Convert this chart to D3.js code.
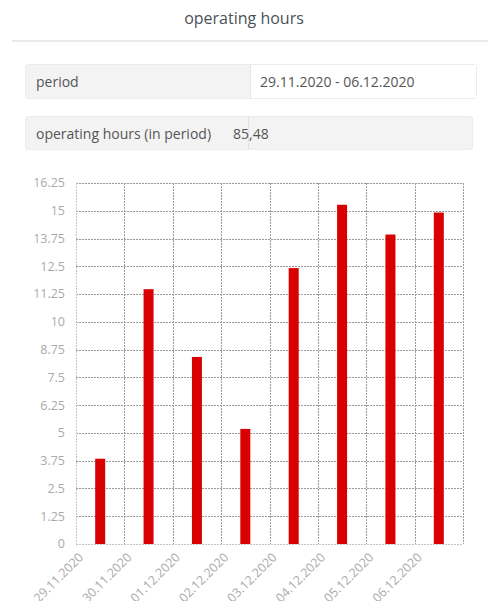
<!DOCTYPE html>
<html>
<head>
<meta charset="utf-8">
<script src="https://cdn.jsdelivr.net/npm/d3@7"></script>
<style>
  body { margin: 0; width: 488px; height: 601px; background: #fff; font-family: "Open Sans", sans-serif; position: relative; overflow: hidden; }
  .title { position: absolute; left: 0; width: 488px; top: 7px; text-align: center; font-size: 16px; color: #4a5259; }
  .sep { position: absolute; left: 12px; right: 0; top: 40px; height: 2px; background: #ebebeb; }
  .row { position: absolute; left: 25px; height: 34px; border-radius: 3px; background: #f3f3f3; border: 1px solid #ececec; box-sizing: border-box; font-size: 14px; color: #555; }
  .row span { position: absolute; top: 7px; }
  .cell { position: absolute; top: 0; bottom: 0; background: #fff; border-left: 1px solid #e6e6e6; }
  .divider { position: absolute; top: 0; bottom: 0; width: 1px; background: #e2e2e2; }
  svg { position: absolute; left: 0; top: 0; }
</style>
</head>
<body>
<div class="title">operating hours</div>
<div class="sep"></div>
<div class="row" style="top:64px; width:452px; height:35px;">
  <span style="left:10px;">period</span>
  <div class="cell" style="left:224px; right:0;"><span style="left:9px;">29.11.2020 - 06.12.2020</span></div>
</div>
<div class="row" style="top:116px; width:448px;">
  <span style="left:10px;">operating hours (in period)</span>
  <div class="divider" style="left:222px;"></div>
  <span style="left:207px;">85,48</span>
</div>
<script>
const days = ["29.11.2020", "30.11.2020", "01.12.2020", "02.12.2020", "03.12.2020", "04.12.2020", "05.12.2020", "06.12.2020"];
const hours = [3.84, 11.47, 8.42, 5.18, 12.42, 15.27, 13.93, 14.92];
const yTicks = [0, 1.25, 2.5, 3.75, 5, 6.25, 7.5, 8.75, 10, 11.25, 12.5, 13.75, 15, 16.25];

const svg = d3.select("body").append("svg")
    .attr("width", 488)
    .attr("height", 601);

const x = d3.scaleBand()
    .domain(days)
    .range([76, 463]);

const y = d3.scaleLinear()
    .domain([0, 16.25])
    .range([544, 183]);

// horizontal grid
svg.append("g")
    .selectAll("line")
    .data(yTicks)
    .join("line")
    .attr("x1", 76)
    .attr("x2", 463)
    .attr("y1", d => Math.round(y(d)) + 0.5)
    .attr("y2", d => Math.round(y(d)) + 0.5)
    .attr("stroke", d => d === 0 ? "#c4c4c4" : "#9a9a9a")
    .attr("stroke-dasharray", "2,1");

// vertical grid
svg.append("g")
    .selectAll("line")
    .data(days.concat(["end"]))
    .join("line")
    .attr("x1", (d, i) => Math.round(i < days.length ? x(d) : x.range()[1]) + 0.5)
    .attr("x2", (d, i) => Math.round(i < days.length ? x(d) : x.range()[1]) + 0.5)
    .attr("y1", y(16.25))
    .attr("y2", y(0))
    .attr("stroke", (d, i) => i === 0 ? "#c4c4c4" : "#9a9a9a")
    .attr("stroke-dasharray", "2,1");

// bars
svg.append("g")
    .selectAll("rect")
    .data(hours)
    .join("rect")
    .attr("x", (d, i) => x(days[i]) + x.bandwidth() / 2 - 5)
    .attr("y", d => y(d))
    .attr("width", 10)
    .attr("height", d => y(0) - y(d))
    .attr("fill", "#d80000");

// y labels
svg.append("g")
    .selectAll("text")
    .data(yTicks)
    .join("text")
    .attr("x", 65)
    .attr("y", d => y(d))
    .attr("dy", "0.35em")
    .attr("text-anchor", "end")
    .attr("font-size", 12.5)
    .attr("fill", "#aaa")
    .text(d => String(d));

// x labels
svg.append("g")
    .selectAll("text")
    .data(days)
    .join("text")
    .attr("transform", d => `translate(${x(d) + 5},${555}) rotate(-45)`)
    .attr("text-anchor", "end")
    .attr("dy", "0.35em")
    .attr("font-size", 12.5)
    .attr("fill", "#aaa")
    .text(d => d);
</script>
</body>
</html>
